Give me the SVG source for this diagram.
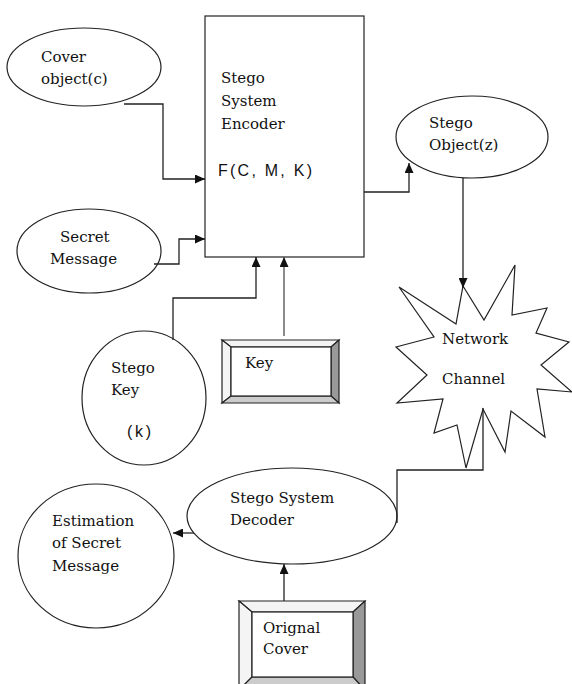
<svg xmlns="http://www.w3.org/2000/svg" width="572" height="684" viewBox="0 0 572 684">
  <style>
    .shape { fill: #ffffff; stroke: #222222; stroke-width: 1.2; }
    .bevel { stroke: #222222; stroke-width: 1.2; stroke-linejoin: miter; }
    .lite { fill: #f4f4f4; }
    .dark { fill: #999999; }
    .mid { fill: #cccccc; }
    .lbl { font-family: "DejaVu Serif", "Liberation Serif", serif; font-size: 15px; fill: #111111; }
    .sans { font-family: "Liberation Sans", Arial, sans-serif; font-size: 16px; fill: #111111; }
    .wire { fill: none; stroke: #222222; stroke-width: 1.3; }
    .wire-grey { fill: none; stroke: #666666; stroke-width: 1.5; }
  </style>
  <defs>
    <marker id="arrow" markerUnits="userSpaceOnUse" markerWidth="10" markerHeight="9" refX="10" refY="4.5" orient="auto">
      <path d="M0,0 L10,4.5 L0,9 Z" fill="#111111"/>
    </marker>
  </defs>
  <rect width="572" height="684" fill="#ffffff"/>

  <!-- encoder block -->
  <g id="encoder">
    <rect class="shape" x="205" y="16" width="159" height="241"/>
    <text class="lbl" x="221" y="83">Stego</text>
    <text class="lbl" x="221" y="106">System</text>
    <text class="lbl" x="221" y="129">Encoder</text>
    <text class="sans" x="218" y="176" textLength="94" lengthAdjust="spacing">F(C, M, K)</text>
  </g>

  <g id="cover-object">
    <ellipse class="shape" cx="84" cy="67" rx="77" ry="39"/>
    <text class="lbl" x="41" y="62">Cover</text>
    <text class="lbl" x="41" y="84">object(c)</text>
  </g>

  <g id="secret-message">
    <ellipse class="shape" cx="89" cy="251" rx="72" ry="42"/>
    <text class="lbl" x="60" y="242">Secret</text>
    <text class="lbl" x="50" y="264">Message</text>
  </g>

  <g id="stego-key">
    <ellipse class="shape" cx="144" cy="398" rx="62" ry="67"/>
    <text class="lbl" x="111" y="373">Stego</text>
    <text class="lbl" x="111" y="395">Key</text>
    <text class="sans" x="127" y="437" textLength="24" lengthAdjust="spacing">(k)</text>
  </g>

  <g id="key">
    <polygon class="bevel lite" points="222,340 339,340 331,347 231,347"/>
    <polygon class="bevel lite" points="222,340 231,347 231,396 222,403"/>
    <polygon class="bevel dark" points="339,340 339,403 331,396 331,347"/>
    <polygon class="bevel mid" points="222,403 231,396 331,396 339,403"/>
    <rect class="shape" x="231" y="347" width="100" height="49"/>
    <text class="lbl" x="245" y="368">Key</text>
  </g>

  <g id="stego-object">
    <ellipse class="shape" cx="472" cy="137" rx="76" ry="41"/>
    <text class="lbl" x="429" y="128">Stego</text>
    <text class="lbl" x="429" y="150">Object(z)</text>
  </g>

  <g id="network-channel">
    <polygon class="shape" points="463,286 484,320 515,265 512,315 547,308 536,333 569,342 541,365 572,392 537,389 545,437 511,411 505,452 483,409 466,468 457,425 434,433 443,399 397,403 427,375 396,347 434,337 399,287 456,324"/>
    <text class="lbl" x="442" y="344">Network</text>
    <text class="lbl" x="442" y="384">Channel</text>
  </g>

  <g id="decoder">
    <ellipse class="shape" cx="292" cy="516" rx="105" ry="48"/>
    <text class="lbl" x="230" y="503">Stego System</text>
    <text class="lbl" x="230" y="525">Decoder</text>
  </g>

  <g id="estimation">
    <ellipse class="shape" cx="96" cy="556" rx="78" ry="72"/>
    <text class="lbl" x="52" y="526">Estimation</text>
    <text class="lbl" x="52" y="548">of Secret</text>
    <text class="lbl" x="52" y="571">Message</text>
  </g>

  <g id="original-cover">
    <polygon class="bevel lite" points="239,601 365,601 353,612 252,612"/>
    <polygon class="bevel lite" points="239,601 252,612 252,677 239,690"/>
    <polygon class="bevel dark" points="365,601 365,690 353,677 353,612"/>
    <polygon class="bevel mid" points="239,690 252,677 353,677 365,690"/>
    <rect class="shape" x="252" y="612" width="101" height="65"/>
    <text class="lbl" x="263" y="633">Orignal</text>
    <text class="lbl" x="263" y="654">Cover</text>
  </g>

  <!-- connectors -->
  <g id="connectors">
    <path class="wire" d="M124,104 H163 V179 H205" marker-end="url(#arrow)"/>
    <path class="wire" d="M154,264 H179 V239 H205" marker-end="url(#arrow)"/>
    <path class="wire" d="M173,340 V298 H256 V257" marker-end="url(#arrow)"/>
    <path class="wire-grey" d="M284,336 V257" marker-end="url(#arrow)"/>
    <path class="wire" d="M364,192 H409 V163" marker-end="url(#arrow)"/>
    <path class="wire" d="M463,178 V288" marker-end="url(#arrow)"/>
    <path class="wire" d="M483,408 V470 H397 V523"/>
    <path class="wire" d="M194,533 H173" marker-end="url(#arrow)"/>
    <path class="wire" d="M284,601 V564" marker-end="url(#arrow)"/>
  </g>
</svg>
